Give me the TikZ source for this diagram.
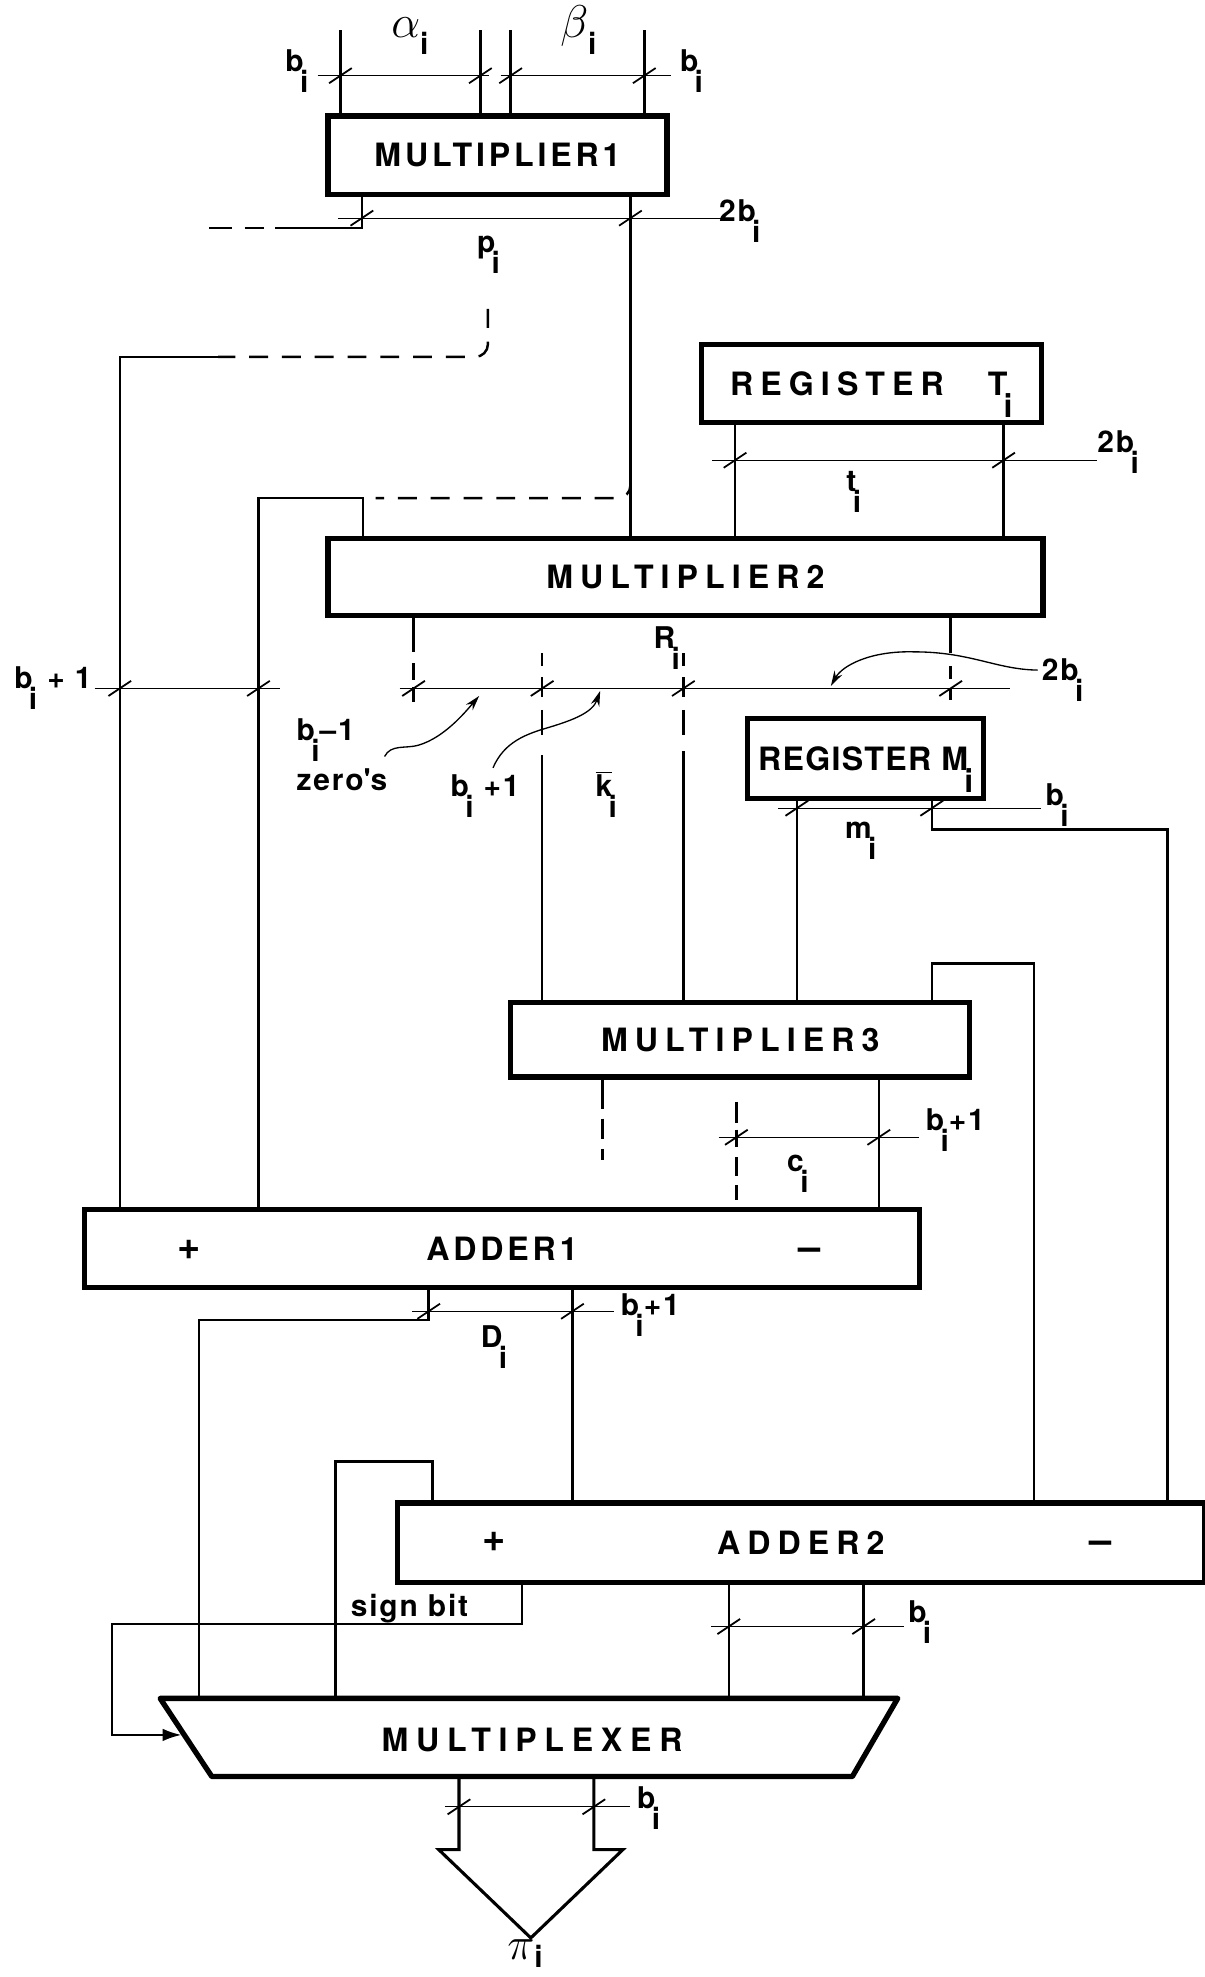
\documentclass[tikz,border=0pt]{standalone}
\usepackage{fontspec}
\setmainfont{TeX Gyre Heros}
\usetikzlibrary{arrows.meta}

% lowered index as the drawing sets it (kept out of the box height)
\newcommand\lo[1]{\kern-0.12em\raisebox{-0.7em}[0pt][0pt]{#1}}
\newcommand\glo[1]{\raisebox{-0.36em}[0pt][0pt]{\labfont #1}}
\newcommand\blkfont{\fontsize{14.5}{16}\selectfont\bfseries}
\newcommand\labfont{\fontsize{13.5}{15}\selectfont\bfseries}
\newcommand\grkfont{\fontsize{20.74}{22}\selectfont}
% bus width mark: short slash through a wire
\newcommand\tck[2]{\draw[tk] (#1-9,#2+6) -- (#1+9,#2-6);}

\begin{document}
\begin{tikzpicture}[
    x = 0.2mm, y = -0.2mm,
    blk/.style = {
        draw,
        line width = 2.4pt,
        inner sep  = 0pt,
        anchor     = north west,
        font       = \blkfont\addfontfeature{LetterSpace=#1}
    },
    blk/.default = 22,
    wire/.style = {line width = 1.1pt},
    dsh/.style  = {wire, dash pattern = on 3mm off 2.2mm},
    bus/.style  = {line width = 0.5pt},
    tk/.style   = {line width = 0.8pt},
    lab/.style  = {
        font       = \labfont\addfontfeature{LetterSpace=6},
        anchor     = base west,
        inner sep  = 0pt
    },
    grk/.style  = {font = \grkfont, anchor = base west, inner sep = 0pt},
    sgn/.style  = {font = \fontsize{18}{20}\selectfont\bfseries, inner sep = 0pt},
    ptr/.style  = {line width = 0.6pt, -{Stealth[length=2.4mm, width=1.4mm]}}
]

\useasboundingbox (0,0) rectangle (955,1568);

% ================================================================
%  BLOCKS
% ================================================================

\node[blk=12, minimum width=53.8mm,  minimum height=12.4mm] (m1)   at (258,90)   {MULTIPLIER1};
\node[blk,    minimum width=54mm,    minimum height=12.4mm] (regT) at (554,271)  {REGISTER\hspace{7mm}T\lo{i}\hspace{1.6mm}};
\node[blk,    minimum width=113.4mm, minimum height=12.2mm] (m2)   at (258,425)  {MULTIPLIER2};
\node[blk=4,  minimum width=37.4mm,  minimum height=12.6mm] (regM) at (591,568)  {REGISTER M\lo{i}};
\node[blk,    minimum width=72.8mm,  minimum height=11.8mm] (m3)   at (403,793)  {MULTIPLIER3\hspace{2mm}};
\node[blk=12, minimum width=132.4mm, minimum height=12.4mm] (add1) at (65,957)   {ADDER1\hspace{4.4mm}};
\node[blk,    minimum width=128mm,   minimum height=12.6mm] (add2) at (313,1190) {ADDER2};

\node[sgn] (a1p) at (150,991)  {+};
\node[sgn] (a1m) at (642,995)  {--};
\node[sgn] (a2p) at (392,1223) {+};
\node[sgn] (a2m) at (873,1227) {--};

% multiplexer outline (trapezium)
\coordinate (mxtl) at (127,1347);
\coordinate (mxtr) at (712,1347);
\coordinate (mxbr) at (676,1409);
\coordinate (mxbl) at (168,1409);
\draw[line width=2.4pt, line join=round] (mxtl) -- (mxtr) -- (mxbr) -- (mxbl) -- cycle;
\node[font=\blkfont\addfontfeature{LetterSpace=24}] (mux) at (422,1380) {MULTIPLEXER};

% ================================================================
%  MULTIPLIER1: inputs alpha_i, beta_i ; outputs p_i (2b_i)
% ================================================================

\coordinate (ia) at (270,24);
\coordinate (ib) at (381,24);
\coordinate (ic) at (405,24);
\coordinate (id) at (511,24);
\foreach \c in {ia, ib, ic, id}
    \draw[wire] (\c) -- (\c |- m1.north);

\draw[bus] (252,60) -- (388,60);
\draw[bus] (397,60) -- (532,60);
\foreach \xx in {270, 381, 405, 511}
    {\tck{\xx}{60}}

\node[lab] (lbAl) at (226,57)  {b\lo{i}};
\node[grk] (lbal) at (310,30)  {$\alpha$\glo{i}};
\node[grk] (lbbe) at (444,30)  {$\beta$\glo{i}};
\node[lab] (lbAr) at (539,57)  {b\lo{i}};

% left output: short stub ending in a dashed line
\coordinate (pe) at (166,181);
\draw[wire] (m1.south -| 287,0) |- (218,181) coordinate (pm);
\draw[wire, dash pattern=on 3.6mm off 2mm on 3mm off 9mm] (pe) -- (pm);

% right output down to MULTIPLIER2
\draw[wire] (m1.south -| 500,0) -- (m2.north -| 500,0);

\draw[bus] (268,173) -- (572,173);
\tck{287}{173} \tck{500}{173}
\node[lab] (lbp)  at (378,200) {p\lo{i}};
\node[lab] (lb1b) at (570,176) {2b\lo{i}};

% p_i (dashed) to the left wire into ADDER1
\coordinate (pt) at (387,245);
\draw[dsh, rounded corners=2mm] (pt) |- (173,283) coordinate (pl);
\draw[wire] (pl) -| (add1.north -| 95,0);

% ADDER1 wire back up into MULTIPLIER2
\draw[wire] (add1.north -| 205,0) |- (288,395) -- (m2.north -| 288,0);
\coordinate (qd) at (500,378);
\draw[dsh, rounded corners=2mm] (qd) |- (298,395);

\draw[bus] (75,546) -- (222,546);
\tck{95}{546} \tck{205}{546}
\node[lab] (lbL) at (11,546) {b\lo{i} + 1};

% ================================================================
%  REGISTER T_i  ->  MULTIPLIER2
% ================================================================

\foreach \xx in {583, 796}
    \draw[wire] (regT.south -| \xx,0) -- (m2.north -| \xx,0);

\draw[bus] (565,365) -- (870,365);
\tck{583}{365} \tck{796}{365}
\node[lab] (lbt)  at (671,390) {t\lo{i}};
\node[lab] (lbTb) at (870,359) {2b\lo{i}};

% ================================================================
%  MULTIPLIER2 outputs R_i (2b_i), split in zero's / b_i+1 / k_i
% ================================================================

\coordinate (r1e) at (328,557);
\coordinate (r2s) at (430,518);
\coordinate (r3s) at (542,518);
\coordinate (r4e) at (754,555);
\draw[wire, dash pattern=on 5.4mm off 1.8mm on 2.6mm off 1.2mm on 2.8mm off 20mm]
    (m2.south -| r1e) -- (r1e);
\draw[wire, dash pattern=on 2mm off 1.8mm on 3.2mm off 2mm on 4mm off 3.2mm on 200mm]
    (r2s) -- (m3.north -| r2s);
\draw[wire, dash pattern=on 2mm off 1.8mm on 3.2mm off 2mm on 4mm off 2.6mm on 200mm]
    (r3s) -- (m3.north -| r3s);
\draw[wire, dash pattern=on 5.6mm off 2mm on 2mm off 1.6mm on 2.6mm off 20mm]
    (m2.south -| r4e) -- (r4e);

\draw[bus] (317,546) -- (801,546);
\foreach \xx in {328, 430, 542, 754}
    {\tck{\xx}{546}}

\node[lab] (lbR)   at (518,514) {R\lo{i}};
\node[lab] (lbR2b) at (826,540) {2b\lo{i}};
\node[lab] (lbz1)  at (235,587) {b\lo{i}--1};
\node[lab] (lbz2)  at (235,627) {zero\textquotesingle s};
\node[lab] (lbbp)  at (357,632) {b\lo{i} +1};
\node[lab] (lbk)   at (472,632) {$\overline{\hbox{k}}$\lo{i}};

\draw[ptr] ([xshift=-0.6mm]lbR2b.west) .. controls (790,531) and (770,517) .. (725,517)
    .. controls (690,516) and (668,528) .. (659,544);
\draw[ptr] (305,600) .. controls (310,590) and (322,594) .. (332,591)
    .. controls (352,585) and (368,566) .. (380,552);
\draw[ptr] (391,609) .. controls (400,588) and (418,582) .. (435,577)
    .. controls (455,571) and (470,565) .. (476,548);

% ================================================================
%  REGISTER M_i
% ================================================================

\draw[wire] (regM.south -| 632,0) -- (m3.north -| 632,0);
\draw[wire] (regM.south -| 739,0) |- (926,658) -- (add2.north -| 926,0);

\draw[bus] (617,641) -- (826,641);
\tck{632}{641} \tck{739}{641}
\node[lab] (lbm)  at (670,665) {m\lo{i}};
\node[lab] (lbMb) at (829,639) {b\lo{i}};

% MULTIPLIER3 loop to ADDER2
\draw[wire] (m3.north -| 739,0) |- (820,764) -- (add2.north -| 820,0);

% ================================================================
%  MULTIPLIER3 outputs c_i (b_i+1)
% ================================================================

\coordinate (s1e) at (478,920);
\coordinate (s3s) at (584,874);
\draw[wire, dash pattern=on 4.6mm off 1.6mm on 3.2mm off 1.6mm on 2.6mm off 20mm]
    (m3.south -| s1e) -- (s1e);
\draw[wire] (m3.south -| 697,0) -- (add1.north -| 697,0);
\draw[wire, dash pattern=on 3.4mm off 1mm on 2.8mm off 1.6mm on 3mm off 1.4mm on 2.4mm off 1mm]
    (s3s) -- (add1.north -| s3s);

\draw[bus] (570,902) -- (729,902);
\tck{584}{902} \tck{697}{902}
\node[lab] (lbc)  at (624,929) {c\lo{i}};
\node[lab] (lbcb) at (734,897) {b\lo{i}+1};

% ================================================================
%  ADDER1 outputs D_i (b_i+1)
% ================================================================

\draw[wire] (add1.south -| 340,0) |- (158,1047) -- (mxtl -| 158,0);
\draw[wire] (add1.south -| 454,0) -- (add2.north -| 454,0);

\draw[bus] (327,1040) -- (487,1040);
\tck{340}{1040} \tck{454}{1040}
\node[lab] (lbD)  at (381,1069) {D\lo{i}};
\node[lab] (lbDb) at (492,1043) {b\lo{i}+1};

% multiplexer input looped from ADDER2 top
\draw[wire] (mxtl -| 266,0) |- (343,1159) -- (add2.north -| 343,0);

% ================================================================
%  ADDER2: sign bit and result (b_i)
% ================================================================

\coordinate (mxin) at (144,1376);
\draw[wire, -{Latex[length=3mm, width=2mm]}] (add2.south -| 414,0) |- (89,1288) |- (mxin);
\node[lab] (lbs) at (278,1282) {sign bit};

\foreach \xx in {578, 685}
    \draw[wire] (add2.south -| \xx,0) -- (mxtl -| \xx,0);

\draw[bus] (564,1290) -- (717,1290);
\tck{578}{1290} \tck{685}{1290}
\node[lab] (lbob) at (720,1287) {b\lo{i}};

% ================================================================
%  MULTIPLEXER output pi_i
% ================================================================

\draw[wire, line width=1.4pt, line join=miter]
    (mxbl -| 364,0) -- (364,1467) -- (348,1467) -- (421,1537)
    -- (494,1467) -- (471,1467) -- (mxbl -| 471,0);

\draw[bus] (353,1433) -- (500,1433);
\tck{364}{1433} \tck{471}{1433}
\node[lab] (lbub) at (505,1434) {b\lo{i}};
\node[grk] (lbpi) at (402,1554) {$\pi$\raisebox{-0.18em}[0pt][0pt]{\labfont i}};

\end{tikzpicture}
\end{document}
